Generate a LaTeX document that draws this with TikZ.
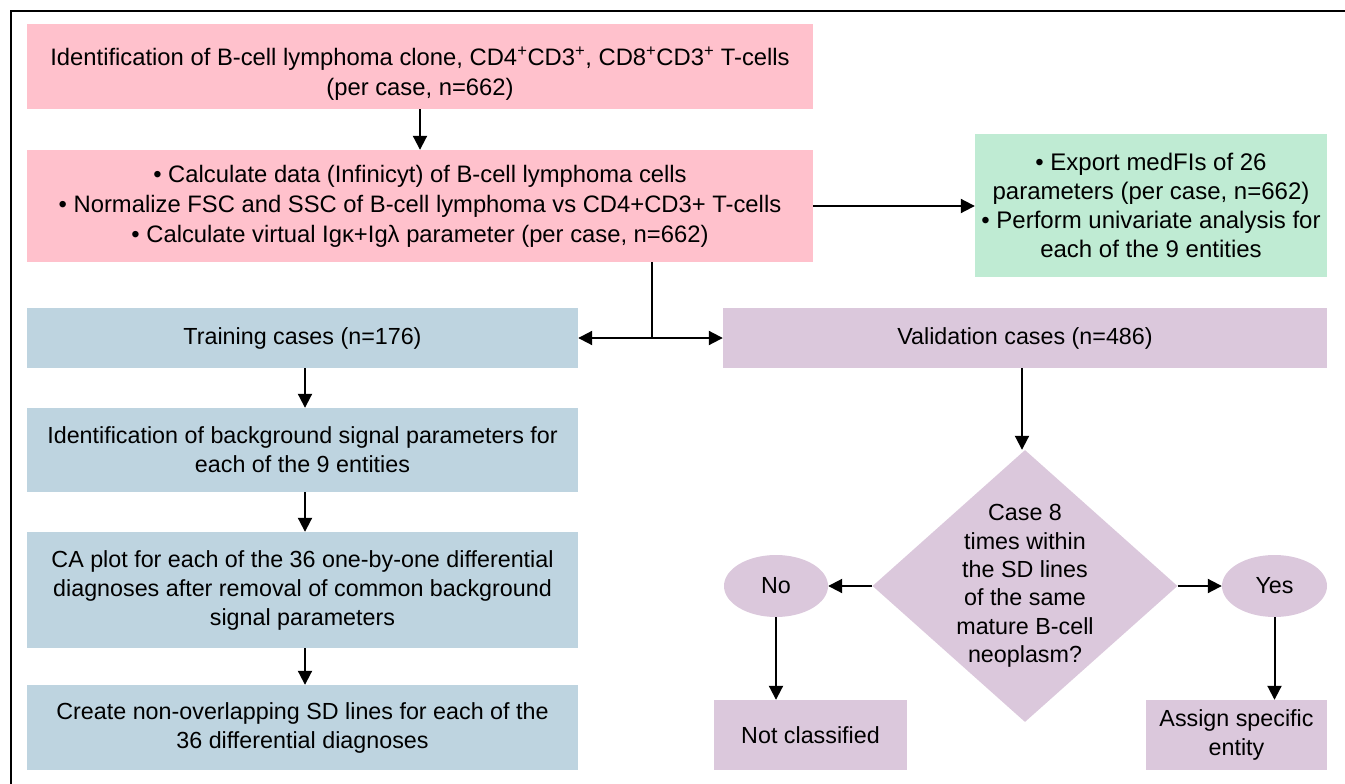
\documentclass[tikz,border=0pt]{standalone}
\usepackage{fontspec}
\setmainfont{Liberation Sans}
\usetikzlibrary{shapes.geometric,arrows.meta}
\definecolor{pinkc}{RGB}{255,193,204}
\definecolor{bluec}{RGB}{190,212,224}
\definecolor{purpc}{RGB}{219,200,220}
\definecolor{greenc}{RGB}{191,235,211}
\tikzset{
  box/.style={rectangle, inner sep=0pt, align=center, font=\fontsize{23.8}{30}\selectfont},
  pinkbox/.style={box, fill=pinkc},
  bluebox/.style={box, fill=bluec, font=\fontsize{23.3}{29}\selectfont},
  purpbox/.style={box, fill=purpc, font=\fontsize{23.3}{29}\selectfont},
  greenbox/.style={box, fill=greenc, font=\fontsize{24}{29}\selectfont},
  conn/.style={line width=2pt},
  arr/.style={conn, -{Triangle[length=14pt,width=14pt]}},
}
\begin{document}
\begin{tikzpicture}[x=1pt,y=-1pt]
\useasboundingbox (0,0) rectangle (1345,784);
\draw[line width=2.5pt] (11,784) -- (11,11) -- (1345,11);

\node[pinkbox, minimum width=786pt, minimum height=85pt] (b1) at (420,66.5)
  {\rule{0pt}{33pt}Identification of B-cell lymphoma clone, CD4\textsuperscript{+}CD3\textsuperscript{+}, CD8\textsuperscript{+}CD3\textsuperscript{+} T-cells\\(per case, n=662)};
\node[pinkbox, minimum width=786pt, minimum height=112pt, font=\fontsize{23.8}{30}\selectfont] (b2) at (420,206)
  {• Calculate data (Infinicyt) of B-cell lymphoma cells\\
   • Normalize FSC and SSC of B-cell lymphoma vs CD4+CD3+ T-cells\\
   • Calculate virtual Igκ+Igλ parameter (per case, n=662)};
\node[greenbox, minimum width=352pt, minimum height=143pt] (g) at (1151,205.5)
  {• Export medFIs of 26\\ parameters (per case, n=662)\\• Perform univariate analysis for\\each of the 9 entities};

\node[bluebox, minimum width=551pt, minimum height=60pt] (t1) at (302.5,338) {Training cases (n=176)};
\node[bluebox, minimum width=551pt, minimum height=84pt] (t2) at (302.5,450)
  {Identification of background signal parameters for\\each of the 9 entities};
\node[bluebox, minimum width=551pt, minimum height=116pt] (t3) at (302.5,590)
  {CA plot for each of the 36 one-by-one differential\\diagnoses after removal of common background\\signal parameters};
\node[bluebox, minimum width=551pt, minimum height=85pt] (t4) at (302.5,727.5)
  {Create non-overlapping SD lines for each of the\\36 differential diagnoses};

\node[purpbox, minimum width=604pt, minimum height=60pt] (v) at (1025,338) {Validation cases (n=486)};
\node[diamond, fill=purpc, inner sep=0pt, minimum width=305pt, minimum height=272pt] (d) at (1025,586) {};
\node[box, font=\fontsize{23.3}{28.3}\selectfont] (dt) at (1025,586)
  {Case 8\\times within\\the SD lines\\of the same\\mature B-cell\\neoplasm?};
\node[ellipse, fill=purpc, inner sep=0pt, minimum width=104pt, minimum height=62pt, font=\fontsize{23.3}{28}\selectfont] (no) at (776,586) {No};
\node[ellipse, fill=purpc, inner sep=0pt, minimum width=105pt, minimum height=62pt, font=\fontsize{23.3}{28}\selectfont] (yes) at (1274.5,586) {Yes};
\node[purpbox, minimum width=193pt, minimum height=70pt] (nc) at (810.5,735) {Not classified};
\node[purpbox, minimum width=181pt, minimum height=70pt] (as) at (1236.5,735) {Assign specific\\entity};

\draw[arr] (b1) -- (b2);
\draw[arr] (b2.east) -- (b2.east -| g.west);
\coordinate (j) at (652,338);
\draw[conn] (b2.south -| j) -- (j);
\draw[arr] (j) -- (t1.east);
\draw[arr] (j) -- (v.west);
\draw[arr] (t1.south -| 305,0) -- (t2.north -| 305,0);
\draw[arr] (t2.south -| 305,0) -- (t3.north -| 305,0);
\draw[arr] (t3.south -| 305,0) -- (t4.north -| 305,0);
\draw[arr] (v.south -| 1022,0) -- (d.north -| 1022,0);
\draw[arr] (d.west) -- (no.east);
\draw[arr] (d.east) -- (yes.west);
\draw[arr] (no.south) -- (no.south |- nc.north);
\draw[arr] (yes.south) -- (yes.south |- as.north);
\end{tikzpicture}
\end{document}
